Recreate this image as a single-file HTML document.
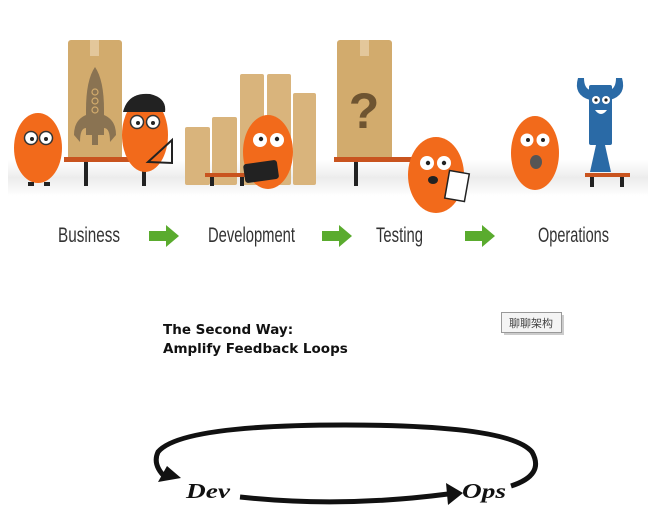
<!DOCTYPE html>
<html><head><meta charset="utf-8"><style>
html,body{margin:0;padding:0;background:#fff;width:660px;height:526px;overflow:hidden}
svg{display:block}
</style></head><body>
<svg width="660" height="526" viewBox="0 0 660 526" xmlns="http://www.w3.org/2000/svg">
<defs>
<linearGradient id="fl" x1="0" y1="0" x2="0" y2="1"><stop offset="0" stop-color="#fff"/><stop offset=".5" stop-color="#ececec"/><stop offset="1" stop-color="#fff"/></linearGradient>
</defs>
<rect x="8" y="160" width="640" height="36" fill="url(#fl)"/>
<rect x="68" y="40" width="54" height="120" rx="3" fill="#d2ab6d"/>
<rect x="90" y="40" width="9" height="16" fill="#e3c79b"/>
<path d="M95 67 Q86 80 86 110 L86 135 L104 135 L104 110 Q104 80 95 67Z" fill="#8a7352"/>
<path d="M86 115 Q74 120 74 135 L80 142 Q80 128 86 128Z M104 115 Q116 120 116 135 L110 142 Q110 128 104 128Z" fill="#8a7352"/>
<rect x="92" y="135" width="6" height="10" fill="#8a7352"/>
<circle cx="95" cy="92" r="3" fill="none" stroke="#d2ab6d" stroke-width="1.2"/><circle cx="95" cy="101" r="3" fill="none" stroke="#d2ab6d" stroke-width="1.2"/><circle cx="95" cy="110" r="3" fill="none" stroke="#d2ab6d" stroke-width="1.2"/>
<rect x="64" y="157" width="90" height="5" fill="#c9541f"/>
<rect x="84" y="162" width="4" height="24" fill="#222"/><rect x="142" y="162" width="4" height="24" fill="#222"/>
<ellipse cx="38" cy="148" rx="24" ry="35" fill="#f26a1b"/>
<circle cx="31" cy="138" r="6.5" fill="#fff" stroke="#333" stroke-width="1.5"/><circle cx="46" cy="138" r="6.5" fill="#fff" stroke="#333" stroke-width="1.5"/>
<circle cx="32" cy="139" r="2" fill="#222"/><circle cx="46" cy="139" r="2" fill="#222"/>
<rect x="28" y="182" width="6" height="4" fill="#222"/><rect x="44" y="182" width="6" height="4" fill="#222"/>
<ellipse cx="145" cy="135" rx="23" ry="37" fill="#f26a1b"/>
<path d="M123 112 Q128 92 150 94 Q167 98 165 112Z" fill="#222"/>
<circle cx="137" cy="122" r="6.5" fill="#fff" stroke="#333" stroke-width="1.5"/><circle cx="153" cy="122" r="6.5" fill="#fff" stroke="#333" stroke-width="1.5"/>
<circle cx="138" cy="123" r="2" fill="#222"/><circle cx="153" cy="123" r="2" fill="#222"/>
<path d="M148 162 L172 140 L172 163Z" fill="none" stroke="#222" stroke-width="2"/>
<g fill="#d9b47c">
<rect x="185" y="127" width="25" height="58" rx="2"/><rect x="212" y="117" width="25" height="68" rx="2"/>
<rect x="240" y="74" width="24" height="111" rx="2"/><rect x="267" y="74" width="24" height="111" rx="2"/><rect x="293" y="93" width="23" height="92" rx="2"/>
</g>
<rect x="205" y="173" width="42" height="4" fill="#c9541f"/>
<rect x="210" y="177" width="4" height="9" fill="#222"/><rect x="240" y="177" width="4" height="9" fill="#222"/>
<ellipse cx="268" cy="152" rx="25" ry="37" fill="#f26a1b"/>
<circle cx="260" cy="140" r="7" fill="#fff"/><circle cx="277" cy="140" r="7" fill="#fff"/>
<circle cx="261" cy="139" r="2.2" fill="#222"/><circle cx="277" cy="139" r="2.2" fill="#222"/>
<rect x="244" y="162" width="34" height="19" rx="3" fill="#222" transform="rotate(-8 261 171)"/>
<rect x="337" y="40" width="55" height="120" rx="3" fill="#d2ab6d"/>
<rect x="360" y="40" width="9" height="16" fill="#e3c79b"/>
<text x="364" y="128" font-family="Liberation Sans, sans-serif" font-weight="bold" font-size="50" fill="#6e5431" text-anchor="middle">?</text>
<rect x="334" y="157" width="80" height="5" fill="#c9541f"/>
<rect x="354" y="162" width="4" height="24" fill="#222"/>
<ellipse cx="436" cy="175" rx="28" ry="38" fill="#f26a1b"/>
<circle cx="427" cy="163" r="7" fill="#fff"/><circle cx="444" cy="163" r="7" fill="#fff"/>
<circle cx="428" cy="163" r="2.2" fill="#222"/><circle cx="444" cy="163" r="2.2" fill="#222"/>
<ellipse cx="433" cy="180" rx="5" ry="4" fill="#222"/>
<rect x="447" y="172" width="20" height="28" fill="#fff" stroke="#222" stroke-width="1.5" transform="rotate(10 457 186)"/>
<ellipse cx="535" cy="153" rx="24" ry="37" fill="#f26a1b"/>
<circle cx="527" cy="140" r="6.5" fill="#fff"/><circle cx="543" cy="140" r="6.5" fill="#fff"/>
<circle cx="528" cy="140" r="2" fill="#222"/><circle cx="543" cy="140" r="2" fill="#222"/>
<ellipse cx="536" cy="162" rx="6" ry="7" fill="#555"/>
<path d="M578 78 Q573 95 590 100 L590 90 Q584 88 584 78Z M622 78 Q627 95 610 100 L610 90 Q616 88 616 78Z" fill="#2a6aa6"/>
<rect x="589" y="85" width="23" height="60" rx="2" fill="#2a6aa6"/>
<circle cx="596" cy="100" r="4" fill="#fff"/><circle cx="606" cy="100" r="4" fill="#fff"/>
<circle cx="596" cy="100" r="1.6" fill="#222"/><circle cx="606" cy="100" r="1.6" fill="#222"/>
<path d="M595 110 Q601 118 607 110Z" fill="#fff"/>
<path d="M596 145 L605 145 L611 172 L590 172Z" fill="#2a6aa6"/>
<rect x="585" y="173" width="45" height="4" fill="#c9541f"/>
<rect x="590" y="177" width="4" height="10" fill="#222"/><rect x="620" y="177" width="4" height="10" fill="#222"/>
<g font-family="Liberation Sans Narrow, Liberation Sans, sans-serif" font-size="21" fill="#333">
<text x="58" y="242" textLength="62" lengthAdjust="spacingAndGlyphs">Business</text>
<text x="208" y="242" textLength="87" lengthAdjust="spacingAndGlyphs">Development</text>
<text x="376" y="242" textLength="47" lengthAdjust="spacingAndGlyphs">Testing</text>
<text x="538" y="242" textLength="71" lengthAdjust="spacingAndGlyphs">Operations</text>
</g>
<g fill="#5aab2e">
<path d="M149 231 L166 231 L166 225 L179 236 L166 247 L166 241 L149 241Z"/>
<path d="M322 231 L339 231 L339 225 L352 236 L339 247 L339 241 L322 241Z"/>
<path d="M465 231 L482 231 L482 225 L495 236 L482 247 L482 241 L465 241Z"/>
</g>
<g font-family="DejaVu Sans, Liberation Sans, sans-serif" font-weight="bold" font-size="13.5" fill="#111">
<text x="163" y="334">The Second Way:</text>
<text x="163" y="353">Amplify Feedback Loops</text>
</g>
<rect x="501.5" y="312.5" width="60" height="20" fill="#f4f4f4" stroke="#999"/>
<rect x="562" y="315" width="2" height="19" fill="#ccc"/><rect x="504" y="333" width="60" height="2" fill="#ccc"/>
<text x="531" y="327" font-family="Liberation Sans, 'Noto Sans CJK SC', sans-serif" font-size="11" fill="#444" text-anchor="middle">聊聊架构</text>
<path d="M511 486 Q545 475 532 452 Q510 425 345 425 Q180 425 158 452 Q152 465 166 478" fill="none" stroke="#111" stroke-width="5"/>
<path d="M158 482 L181 478 L167 466Z" fill="#111"/>
<path d="M240 497 Q340 508 448 494" fill="none" stroke="#111" stroke-width="5"/>
<path d="M446 483 L463 493 L448 505Z" fill="#111"/>
<g font-family="Liberation Serif, serif" font-weight="bold" font-style="italic" font-size="21" fill="#111">
<text x="186" y="498" textLength="44" lengthAdjust="spacingAndGlyphs">Dev</text>
<text x="462" y="498" textLength="44" lengthAdjust="spacingAndGlyphs">Ops</text>
</g>
</svg>
</body></html>
